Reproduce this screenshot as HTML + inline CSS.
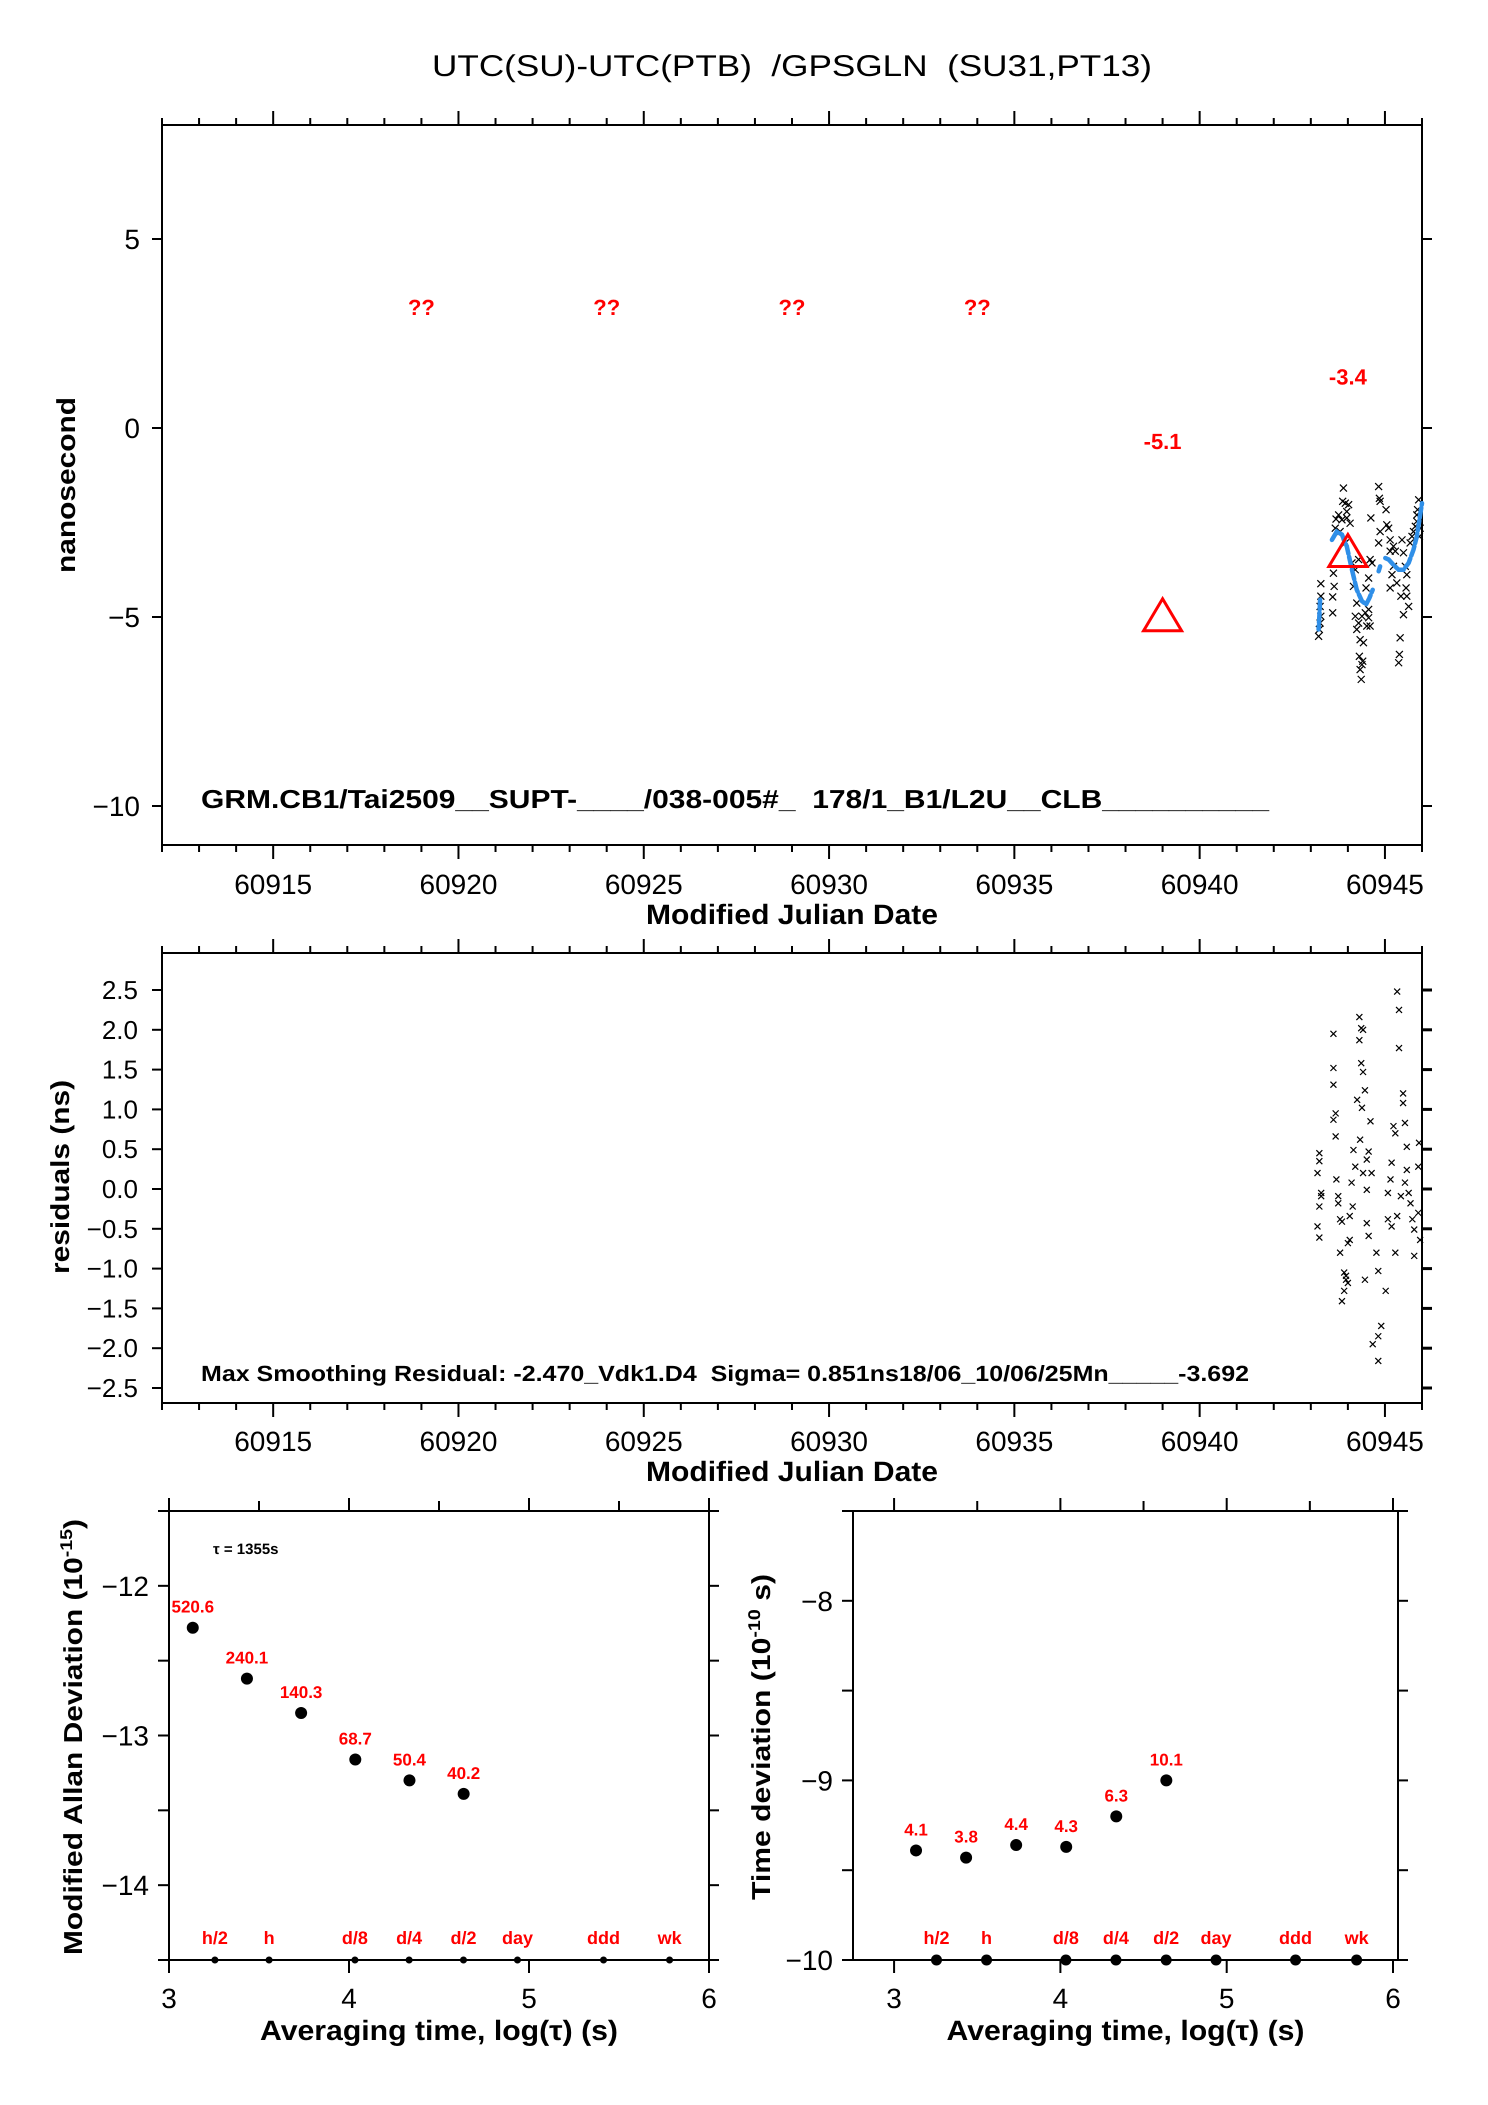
<!DOCTYPE html>
<html><head><meta charset="utf-8"><style>
html,body{margin:0;padding:0;background:#fff}
svg{display:block}
text{font-family:"Liberation Sans",Arial,sans-serif;white-space:pre}
</style></head><body>
<svg id="fig" width="1488" height="2105" viewBox="0 0 1488 2105" xmlns="http://www.w3.org/2000/svg" text-rendering="geometricPrecision">
<text x="792" y="76" font-size="30" text-anchor="middle" textLength="720" lengthAdjust="spacingAndGlyphs" xml:space="preserve">UTC(SU)-UTC(PTB)  /GPSGLN  (SU31,PT13)</text>
<g id="p1"></g>
<g id="p2"></g>
<g id="p3"></g>
<g id="p4"></g>
</svg>
<script>
// ---- data: top plot ----
const diffMjd = [43.21,43.23,43.25,43.27,43.25,43.27,43.27,43.61,43.63,43.59,43.59,43.66,43.68,43.75,43.84,43.88,43.86,43.93,43.97,44.02,43.97,44.06,43.79,43.93,44.11,44.20,44.15,44.24,44.20,44.29,44.24,44.38,44.47,44.56,44.51,44.56,44.60,44.49,44.56,44.33,44.42,44.31,44.40,44.38,44.33,44.36,44.29,44.65,44.60,44.83,44.85,44.87,45.03,44.62,45.05,45.10,44.87,44.83,45.14,45.23,45.28,45.14,45.23,45.19,45.14,45.32,45.46,45.50,45.55,45.59,45.57,45.59,45.64,45.50,45.43,45.41,45.39,45.37,45.68,45.73,45.77,45.82,45.86,45.88,45.91,45.93,45.95,45.86];
const diffNs = [-5.51,-5.33,-5.16,-4.98,-4.72,-4.45,-4.12,-3.84,-4.19,-4.47,-4.89,-2.65,-2.41,-2.30,-2.43,-1.59,-1.94,-1.99,-2.21,-2.03,-2.38,-2.52,-2.74,-3.04,-3.57,-3.75,-4.19,-4.63,-4.98,-5.16,-5.33,-4.98,-4.89,-5.02,-5.24,-4.80,-5.24,-4.23,-3.97,-5.60,-5.68,-6.04,-6.17,-6.26,-6.39,-6.65,-3.48,-3.57,-3.48,-1.55,-1.86,-1.94,-2.16,-2.38,-2.56,-2.65,-2.74,-3.04,-2.96,-3.13,-3.26,-3.26,-3.66,-3.88,-4.23,-4.10,-2.96,-3.30,-3.66,-3.88,-4.23,-4.45,-4.72,-4.94,-4.45,-5.55,-5.99,-6.21,-3.04,-2.87,-2.74,-2.60,-2.47,-2.16,-1.90,-2.87,-2.65,-2.30];
const smoothSeg = [0,0,0,1,1,1,1,1,1,1,1,1,1,2,2,3,3,3,3,3,3,3,3,3,3];
const smoothMjd = [43.25,43.23,43.21,43.57,43.70,43.84,43.97,44.11,44.24,44.38,44.49,44.58,44.67,44.83,44.87,45.01,45.10,45.23,45.37,45.50,45.64,45.77,45.86,45.93,46.0];
const smoothNs = [-4.54,-4.98,-5.33,-2.96,-2.74,-2.82,-3.13,-3.75,-4.28,-4.58,-4.67,-4.50,-4.28,-3.79,-3.66,-3.44,-3.48,-3.62,-3.75,-3.75,-3.57,-3.22,-2.87,-2.43,-1.99];
const markMjd = [60919,60924,60929,60934];
const markLabels = ["??","??","??","??"];
const triMjd = [60939,60944];
const triNs = [-5.1,-3.4];
const triLabels = ["-5.1","-3.4"];
// ---- data: residuals ----
const resMjd = [43.23,43.23,43.18,43.28,43.28,43.23,43.18,43.23,43.61,43.61,43.61,43.67,43.61,43.67,43.69,43.74,43.74,43.79,43.84,43.79,43.84,43.90,43.90,43.95,43.95,44.00,44.05,44.05,44.00,44.13,44.10,44.15,44.20,44.25,44.31,44.36,44.41,44.36,44.41,44.46,44.31,44.38,44.33,44.41,44.51,44.51,44.51,44.56,44.61,44.56,44.64,44.46,44.77,44.82,44.90,44.82,44.67,44.82,45.02,45.08,45.08,45.15,45.18,45.23,45.28,45.33,45.38,45.38,45.49,45.49,45.54,45.59,45.54,45.64,45.69,45.74,45.79,45.79,45.90,45.90,45.92,45.95,45.59,45.28,45.18,45.43,45.33];
const resNs = [0.45,0.35,0.20,-0.05,-0.09,-0.22,-0.47,-0.61,1.95,1.52,1.31,0.95,0.87,0.66,0.12,-0.09,-0.18,-0.38,-0.41,-0.80,-1.41,-1.28,-1.05,-1.09,-1.14,-1.18,-0.34,-0.64,-0.68,-0.22,0.08,0.49,0.28,1.12,2.16,2.02,2.00,1.58,1.47,1.24,1.87,1.02,0.62,0.20,0.37,-0.01,-0.43,-0.59,0.85,0.47,0.20,-1.14,-0.80,-1.03,-1.72,-1.85,-1.95,-2.16,-1.28,-0.38,-0.05,0.12,0.33,0.79,0.70,2.48,2.25,1.77,1.20,1.08,0.83,0.24,0.08,-0.05,-0.18,-0.38,-0.51,-0.84,-0.30,0.28,0.58,-0.64,0.53,-0.80,-0.47,-0.09,-0.34];
// ---- data: stability plots ----
const logTau = [3.132,3.433,3.734,4.035,4.336,4.637];
const madevLog = [-12.28,-12.62,-12.85,-13.16,-13.30,-13.39];
const madevLabels = ["520.6","240.1","140.3","68.7","50.4","40.2"];
const tdevLog = [-9.39,-9.43,-9.36,-9.37,-9.20,-9.00];
const tdevLabels = ["4.1","3.8","4.4","4.3","6.3","10.1"];
const refLog = [3.255,3.556,4.033,4.334,4.636,4.936,5.414,5.781];
const refLabels = ["h/2","h","d/8","d/4","d/2","day","ddd","wk"];
const mjdTicks = [60915,60920,60925,60930,60935,60940,60945];
const nsTicks = [5,0,-5,-10];
const resTicks = [2.5,2.0,1.5,1.0,0.5,0.0,-0.5,-1.0,-1.5,-2.0,-2.5];
const logTicks = [3,4,5,6];
const madTicks = [-12,-13,-14];
const tdTicks = [-8,-9,-10];

const NS='http://www.w3.org/2000/svg';
function mk(parent,tag,attrs,txt){const e=document.createElementNS(NS,tag);for(const k in attrs)e.setAttribute(k,attrs[k]);if(txt!==undefined)e.textContent=txt;parent.appendChild(e);return e;}
function lin(d0,d1,p0,p1){return v=>p0+(v-d0)*(p1-p0)/(d1-d0);}
function line(g,x1,y1,x2,y2,w){return mk(g,'line',{x1:x1,y1:y1,x2:x2,y2:y2,stroke:'#000','stroke-width':w||2});}
function cross(g,x,y,s){const p=mk(g,'path',{d:`M${x-s} ${y-s}L${x+s} ${y+s}M${x-s} ${y+s}L${x+s} ${y-s}`,stroke:'#000','stroke-width':1.2,fill:'none'});return p;}

// ===== plot 1 =====
(function(){
const g=document.getElementById('p1');
const L=162,R=1422,T=125,B=845;
const X=lin(60912,60946,L,R), Y=lin(0,-5,428,617);
const fr=mk(g,'rect',{x:L,y:T,width:R-L,height:B-T,fill:'none',stroke:'#000','stroke-width':2});


for(let d=60912;d<=60946;d++){const x=X(d);const maj=d%5===0;line(g,x,B,x,B+(maj?14:7));line(g,x,T,x,T-(maj?14:7));}
mjdTicks.forEach(t=>{const tx=mk(g,'text',{x:X(t),y:894,'font-size':28,'text-anchor':'middle'},String(t));});
nsTicks.forEach(t=>{const y=Y(t);line(g,L-10,y,L,y);line(g,R,y,R+10,y);const tx=mk(g,'text',{x:140,y:y+10,'font-size':28,'text-anchor':'end'},t<0?'\u2212'+(-t):String(t));});
const xl=mk(g,'text',{x:792,y:924,'font-size':28,'font-weight':'bold','text-anchor':'middle',textLength:292,lengthAdjust:'spacingAndGlyphs'},'Modified Julian Date');

const yl=mk(g,'text',{x:0,y:0,'font-size':26,'font-weight':'bold','text-anchor':'middle',transform:'translate(75,485) rotate(-90)',textLength:176,lengthAdjust:'spacingAndGlyphs'},'nanosecond');

const info=mk(g,'text',{x:201,y:808,'font-size':26,'font-weight':'bold',textLength:1068,lengthAdjust:'spacingAndGlyphs'},'GRM.CB1/Tai2509__SUPT-____/038-005#_  178/1_B1/L2U__CLB__________');

markMjd.forEach((m,i)=>{const t=mk(g,'text',{x:X(m),y:Y(3.2)+8,'font-size':22,'font-weight':'bold',fill:'#f00','text-anchor':'middle'},markLabels[i]);});
diffMjd.forEach((m,i)=>{const c=cross(g,X(60900+m),Y(diffNs[i]),3.5);});
[0,1,2,3].forEach(s=>{const pts=[];smoothSeg.forEach((sg,i)=>{if(sg===s)pts.push(X(60900+smoothMjd[i])+','+Y(smoothNs[i]));});const p=mk(g,'polyline',{points:pts.join(' '),fill:'none',stroke:'#2f8fe8','stroke-width':4.5,'stroke-linecap':'round','stroke-dasharray':'10 3'});});
triMjd.forEach((m,i)=>{const x=X(m),y=Y(triNs[i]);const p=mk(g,'path',{d:`M${x} ${y-22}L${x+19} ${y+10}L${x-19} ${y+10}Z`,fill:'none',stroke:'#f00','stroke-width':3});
const t=mk(g,'text',{x:x,y:Y(triNs[i])-180+8,'font-size':22,'font-weight':'bold',fill:'#f00','text-anchor':'middle'},triLabels[i]);});
})();

// ===== plot 2 =====
(function(){
const g=document.getElementById('p2');
const L=162,R=1422,T=953,B=1403;
const X=lin(60912,60946,L,R), Y=lin(0,2.5,1189,990);
const fr=mk(g,'rect',{x:L,y:T,width:R-L,height:B-T,fill:'none',stroke:'#000','stroke-width':2});


for(let d=60912;d<=60946;d++){const x=X(d);const maj=d%5===0;line(g,x,B,x,B+(maj?14:7));line(g,x,T,x,T-(maj?14:7));}
mjdTicks.forEach(t=>{const tx=mk(g,'text',{x:X(t),y:1451,'font-size':28,'text-anchor':'middle'},String(t));});
resTicks.forEach(t=>{const y=Y(t);line(g,L-10,y,L,y);line(g,R,y,R+10,y,3);const s=t<0?'\u2212'+(-t).toFixed(1):t.toFixed(1);const tx=mk(g,'text',{x:138,y:y+9,'font-size':26,'text-anchor':'end'},s);});
const xl=mk(g,'text',{x:792,y:1481,'font-size':28,'font-weight':'bold','text-anchor':'middle',textLength:292,lengthAdjust:'spacingAndGlyphs'},'Modified Julian Date');

const yl=mk(g,'text',{x:0,y:0,'font-size':26,'font-weight':'bold','text-anchor':'middle',transform:'translate(69,1177) rotate(-90)',textLength:194,lengthAdjust:'spacingAndGlyphs'},'residuals (ns)');

const info=mk(g,'text',{x:201,y:1381,'font-size':22,'font-weight':'bold',textLength:1048,lengthAdjust:'spacingAndGlyphs'},'Max Smoothing Residual: -2.470_Vdk1.D4  Sigma= 0.851ns18/06_10/06/25Mn_____-3.692');

resMjd.forEach((m,i)=>{const c=cross(g,X(60900+m),Y(resNs[i]),3);});
})();

// ===== stability plots =====
function stab(id,L,R,xmin,xmax,ymin,ymax,yTicks,vals,labels,yTitle,yLen,yTitleX,exp){
const g=document.getElementById(id);
const T=1511,B=1960;
const X=lin(xmin,xmax,L,R), Y=lin(ymin,ymax,B,T);
const fr=mk(g,'rect',{x:L,y:T,width:R-L,height:B-T,fill:'none',stroke:'#000','stroke-width':2});


for(let v=3;v<=6.001;v+=0.5){const x=X(v);line(g,x,T,x,T-(v%1===0?13:10));if(v%1===0)line(g,x,B,x,B+13);}
logTicks.forEach(t=>{const tx=mk(g,'text',{x:X(t),y:2008,'font-size':28,'text-anchor':'middle'},String(t));});
for(let v=Math.ceil(ymin*2)/2;v<=ymax+1e-6;v+=0.5){const y=Y(v);line(g,R,y,R+10,y);line(g,L-11,y,L,y);}
yTicks.forEach(t=>{const tx=mk(g,'text',{x:L-20,y:Y(t)+10,'font-size':28,'text-anchor':'end'},'\u2212'+(-t));});
const xl=mk(g,'text',{x:(L+R)/2,y:2040,'font-size':28,'font-weight':'bold','text-anchor':'middle',textLength:358,lengthAdjust:'spacingAndGlyphs'},'Averaging time, log(\u03c4) (s)');

const yl=mk(g,'text',{x:0,y:0,'font-size':26,'font-weight':'bold','text-anchor':'middle',transform:`translate(${yTitleX},1737) rotate(-90)`,textLength:yLen,lengthAdjust:'spacingAndGlyphs'});

mk(yl,'tspan',{},yTitle+' (10');mk(yl,'tspan',{'font-size':17,dy:-10},exp);mk(yl,'tspan',{dy:10},(id==='p4'?' s':'')+')');
logTau.forEach((t,i)=>{const x=X(t),y=Y(vals[i]);const c=mk(g,'circle',{cx:x,cy:y,r:6,fill:'#000'});
const tx=mk(g,'text',{x:x,y:y-15,'font-size':17,'font-weight':'bold',fill:'#f00','text-anchor':'middle'},labels[i]);});
refLog.forEach((t,i)=>{const x=X(t);const c=mk(g,'circle',{cx:x,cy:B,r:id==='p3'?3.5:5.5,fill:'#000'});
const tx=mk(g,'text',{x:x,y:1944,'font-size':18,'font-weight':'bold',fill:'#f00','text-anchor':'middle'},refLabels[i]);});
return {g,X,Y};
}
const a=stab('p3',169,709,3,6,-14.5,-11.5,madTicks,madevLog,madevLabels,'Modified Allan Deviation',436,82,'-15');
const tau=mk(a.g,'text',{x:213,y:1554,'font-size':15,'font-weight':'bold'},'\u03c4 = 1355s');

stab('p4',853,1398,2.753,6.03,-10,-7.5,tdTicks,tdevLog,tdevLabels,'Time deviation',326,770,'-10');
</script>
</body></html>
